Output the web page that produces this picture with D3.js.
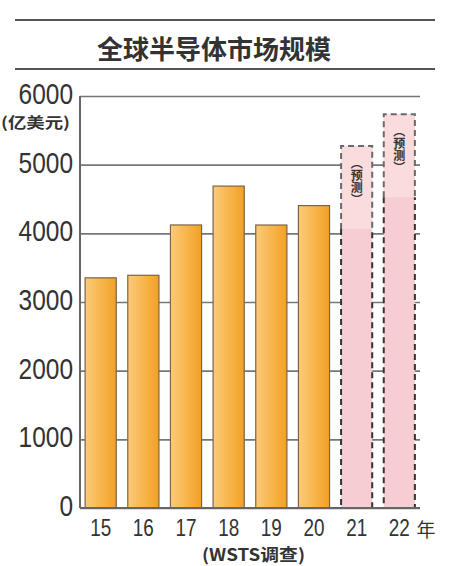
<!DOCTYPE html>
<html><head><meta charset="utf-8">
<script src="https://cdn.jsdelivr.net/npm/d3@7"></script>
<style>
html,body{margin:0;padding:0;background:#fff;}
svg{display:block;}
.num{font-family:"Liberation Sans",Arial,sans-serif;fill:#333;}
.cjk{font-family:"Noto Sans CJK SC","Noto Sans",sans-serif;fill:#333;}
.vert{writing-mode:vertical-rl;text-orientation:mixed;}
</style></head>
<body>
<svg id="c" width="459" height="566"></svg>
<script>
const title = "全球半导体市场规模";
const unitLabel = "(亿美元)";
const sourceLabel = "(WSTS调查)";
const yearSuffix = "年";
const forecastLabel = "（预测）";
const years = ["15","16","17","18","19","20","21","22"];
const values = [3352, 3389, 4122, 4688, 4121, 4404, 5272, 5734];
const isForecast = [false,false,false,false,false,false,true,true];
const yTicks = [0,1000,2000,3000,4000,5000,6000];

const svg = d3.select("#c");
const pL = 80, pR = 420, pT = 96, pB = 508;

const x = d3.scaleBand().domain(years).range([pL, pR]).paddingInner(0.27).paddingOuter(0.12);
const y = d3.scaleLinear().domain([0, 6000]).range([pB, pT]);

const defs = svg.append("defs");
const g = defs.append("linearGradient").attr("id","og").attr("x1","0").attr("x2","1").attr("y1","0").attr("y2","0");
g.append("stop").attr("offset","0%").attr("stop-color","#fbca7a");
g.append("stop").attr("offset","55%").attr("stop-color","#f7b449");
g.append("stop").attr("offset","100%").attr("stop-color","#f2a024");

// title rules
svg.append("line").attr("x1",15).attr("x2",435).attr("y1",20).attr("y2",20).attr("stroke","#555").attr("stroke-width",2);
svg.append("line").attr("x1",15).attr("x2",435).attr("y1",69).attr("y2",69).attr("stroke","#555").attr("stroke-width",2);
svg.append("text").attr("class","cjk").attr("x",214).attr("y",47).attr("text-anchor","middle")
  .attr("dominant-baseline","central").attr("font-size",26).attr("font-weight","bold").attr("fill","#222").text(title);

// y axis with gridlines
const yAxis = svg.append("g").attr("transform",`translate(${pL},0)`)
  .call(d3.axisLeft(y).tickValues(yTicks).tickSize(-(pR-pL)).tickPadding(7).tickFormat(d3.format("d")));
yAxis.select(".domain").remove();
yAxis.selectAll(".tick line").attr("stroke","#777").attr("stroke-width",1.6);
yAxis.selectAll(".tick text").attr("class","num").attr("font-size",30).attr("fill","#333")
  .attr("dy",null).attr("y",0).attr("dominant-baseline","central")
  .attr("transform","translate(0,-3)")
  .attr("textLength",function(){return this.textContent.length*13.6;})
  .attr("lengthAdjust","spacingAndGlyphs");

// vertical axis line
svg.append("line").attr("x1",pL).attr("x2",pL).attr("y1",pT).attr("y2",pB).attr("stroke","#666").attr("stroke-width",2);

// unit label
svg.append("text").attr("class","cjk").attr("x",1).attr("y",121).attr("text-anchor","start")
  .attr("dominant-baseline","central").attr("font-size",15).attr("font-weight","bold").attr("fill","#444")
  .attr("textLength",69).attr("lengthAdjust","spacingAndGlyphs").text(unitLabel);

const data = years.map((yr,i)=>({yr, v: values[i], f: isForecast[i]}));
const boxH = 83;

// actual bars
svg.selectAll("rect.bar").data(data.filter(d=>!d.f)).join("rect").attr("class","bar")
  .attr("x",d=>x(d.yr)).attr("width",x.bandwidth())
  .attr("y",d=>y(d.v)).attr("height",d=>y(0)-y(d.v))
  .attr("fill","url(#og)").attr("stroke","#7a6548").attr("stroke-width",1.2);

// forecast bars
const fc = svg.selectAll("g.fc").data(data.filter(d=>d.f)).join("g").attr("class","fc");
fc.append("rect").attr("x",d=>x(d.yr)).attr("width",x.bandwidth())
  .attr("y",d=>y(d.v)).attr("height",d=>y(0)-y(d.v)).attr("fill","#f5cdd2");
fc.append("rect").attr("x",d=>x(d.yr)).attr("width",x.bandwidth())
  .attr("y",d=>y(d.v)).attr("height",boxH).attr("fill","#f9dcdb");
fc.append("path").attr("d",d=>{
  const x0=x(d.yr), x1=x0+x.bandwidth(), t=y(d.v), m=t+boxH;
  return `M${x0},${m}V${t}H${x1}V${m}`;
}).attr("fill","none").attr("stroke","#6a6a6a").attr("stroke-width",2).attr("stroke-dasharray","6,4");
fc.append("path").attr("d",d=>{
  const x0=x(d.yr), x1=x0+x.bandwidth(), m=y(d.v)+boxH, b=y(0);
  return `M${x0},${m}V${b}H${x1}V${m}`;
}).attr("fill","none").attr("stroke","#333").attr("stroke-width",2).attr("stroke-dasharray","6,4");
fc.append("text").attr("class","cjk vert")
  .attr("x",d=>x(d.yr)+x.bandwidth()/2).attr("y",d=>y(d.v)+11)
  .attr("text-anchor","start")
  .attr("font-size",12).attr("font-weight","bold").attr("fill","#444")
  .text(forecastLabel);

// baseline
svg.append("line").attr("x1",pL).attr("x2",pR).attr("y1",pB).attr("y2",pB).attr("stroke","#666").attr("stroke-width",2);

// x axis labels
const xAxis = svg.append("g").attr("transform",`translate(0,${pB})`)
  .call(d3.axisBottom(x).tickSize(0).tickPadding(0));
xAxis.select(".domain").remove();
xAxis.selectAll(".tick text").attr("class","num").attr("font-size",23.5).attr("fill","#333")
  .attr("dy",null).attr("y",20).attr("dominant-baseline","central")
  .attr("textLength",21).attr("lengthAdjust","spacingAndGlyphs");

svg.append("text").attr("class","cjk").attr("x",426).attr("y",528).attr("text-anchor","middle")
  .attr("dominant-baseline","central").attr("font-size",19).attr("fill","#333").text(yearSuffix);
svg.append("text").attr("class","cjk").attr("x",202).attr("y",553).attr("text-anchor","start")
  .attr("dominant-baseline","central").attr("font-size",17).attr("font-weight","bold").attr("fill","#444")
  .attr("textLength",103).attr("lengthAdjust","spacingAndGlyphs").text(sourceLabel);
</script>
</body></html>
